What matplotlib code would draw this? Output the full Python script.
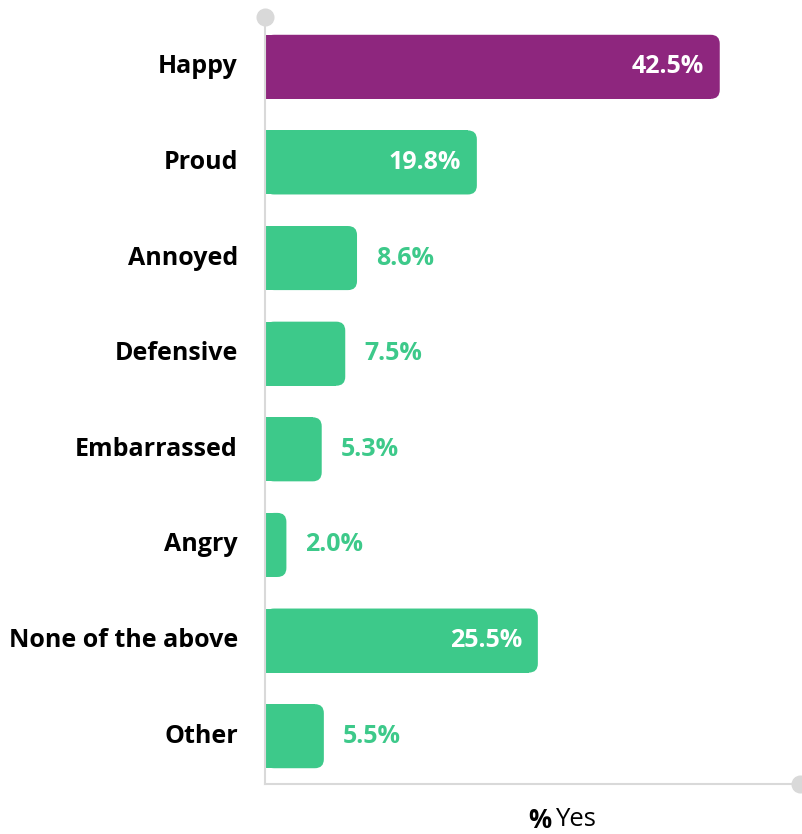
import matplotlib
matplotlib.use("Agg")
import matplotlib.pyplot as plt
from matplotlib.patches import FancyBboxPatch, Rectangle

plt.rcParams['font.family'] = ['Open Sans', 'DejaVu Sans']

# data
categories = ["Happy", "Proud", "Annoyed", "Defensive", "Embarrassed",
              "Angry", "None of the above", "Other"]
values = [42.5, 19.8, 8.6, 7.5, 5.3, 2.0, 25.5, 5.5]
highlight = "Happy"

purple = "#8E267E"
green = "#3DC98A"
axis_gray = "#D9D9D9"

W, H, DPI = 803, 834, 100
fig = plt.figure(figsize=(W / DPI, H / DPI), dpi=DPI)

# axes box in pixels
left_px, right_px, top_px, bottom_px = 265, 800, 19, 784
ax = fig.add_axes([left_px / W, 1 - bottom_px / H,
                   (right_px - left_px) / W, (bottom_px - top_px) / H])
xmax = 50
ax.set_xlim(0, xmax)
ax.set_ylim(len(categories) - 0.5, -0.5)

# pixel per data unit, used to keep the corner round
px_x = (right_px - left_px) / xmax
px_y = (bottom_px - top_px) / len(categories)
aspect = px_x / px_y

bar_h = 0.67
radius_px = 9
fs = 18
for i, (cat, val) in enumerate(zip(categories, values)):
    color = purple if cat == highlight else green
    r = radius_px / px_x
    ax.add_patch(FancyBboxPatch((0, i - bar_h / 2), val, bar_h,
                                boxstyle=f"round,pad=0,rounding_size={r}",
                                mutation_aspect=aspect, fc=color, ec="none", zorder=2))
    # square off the left side
    ax.add_patch(Rectangle((0, i - bar_h / 2), max(val - r, 0), bar_h,
                           fc=color, ec="none", zorder=2))
    label = f"{val:.1f}%"
    if val > 15:
        ax.text(val - 16 / px_x, i, label, ha="right", va="center", color="white",
                fontsize=fs, fontweight="bold", zorder=3)
    else:
        ax.text(val + 19 / px_x, i, label, ha="left", va="center", color=green,
                fontsize=fs, fontweight="bold", zorder=3)
    ax.text(-27 / px_x, i, cat, ha="right", va="center", color="black",
            fontsize=fs, fontweight="bold")

# axes lines with round ends
for s in ["top", "right"]:
    ax.spines[s].set_visible(False)
for s in ["left", "bottom"]:
    ax.spines[s].set_color(axis_gray)
    ax.spines[s].set_linewidth(1.5)
ax.set_xticks([])
ax.set_yticks([])
ax.plot([0], [-0.5 - 2 / px_y], "o", color=axis_gray, ms=12, clip_on=False, zorder=1)
ax.plot([xmax], [len(categories) - 0.5], "o", color=axis_gray, ms=12,
        clip_on=False, zorder=1)

fig.text(551 / W, 1 - 820 / H, "%", ha="right", va="center", fontsize=18.5,
         fontweight="bold")
fig.text(555 / W, 1 - 820 / H, "Yes", ha="left", va="center", fontsize=18.5)

fig.savefig("out.png", dpi=DPI)
